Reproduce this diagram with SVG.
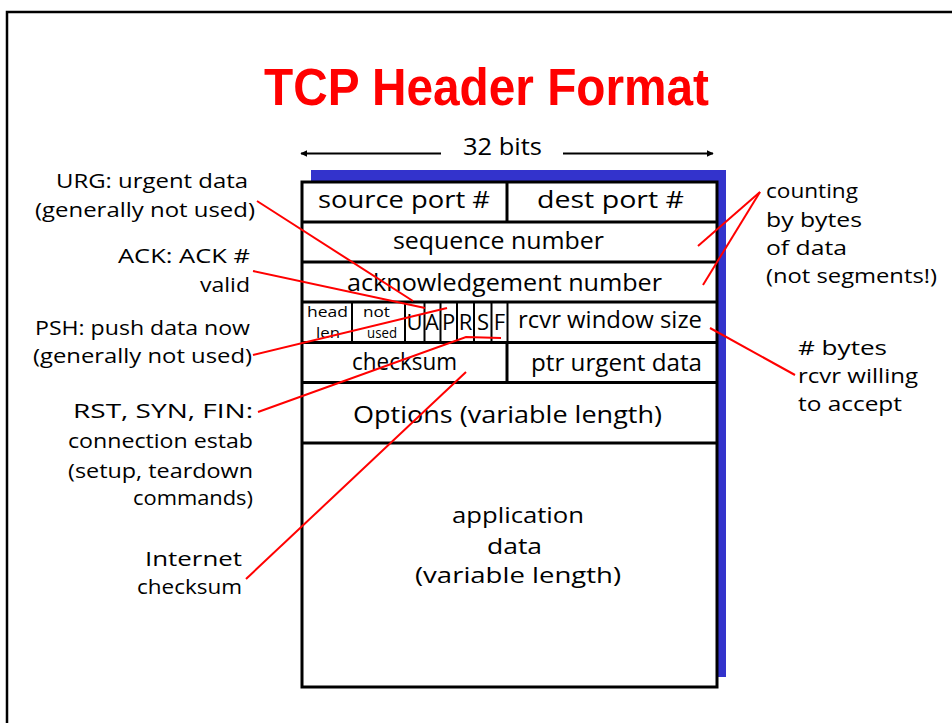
<svg xmlns="http://www.w3.org/2000/svg" width="952" height="723" viewBox="0 0 952 723">
  <defs>
    <marker id="arrowhead" viewBox="0 0 10 10" refX="9" refY="5" markerWidth="7" markerHeight="7" markerUnits="userSpaceOnUse" orient="auto-start-reverse">
      <path d="M0,0 L10,5 L0,10 z" fill="#000"/>
    </marker>
  </defs>
  <style>
    .t { font-family: "Open Sans", "DejaVu Sans", sans-serif; font-size: 24px; fill: #000; }
    .note { font-size: 20px; }
    .body { font-size: 21px; }
    .sm { font-size: 15px; }
    .flag { font-size: 22px; text-anchor: middle; }
    .title { font-family: "Liberation Sans", Arial, sans-serif; font-size: 51px; font-weight: bold; fill: #ff0000; }
    .cell { fill: none; stroke: #000; stroke-width: 3; }
    .thin { stroke: #000; stroke-width: 2; }
    .lead { fill: none; stroke: #ff0000; stroke-width: 2; }
    .dim { stroke: #000; stroke-width: 2; fill: none; }
  </style>

  <rect width="952" height="723" fill="#fff"/>
  <!-- slide frame -->
  <rect x="7" y="12" width="960" height="730" fill="none" stroke="#000" stroke-width="2.5"/>

  <g id="title">
    <text class="title" x="264" y="104.5" textLength="445" lengthAdjust="spacingAndGlyphs">TCP Header Format</text>
  </g>

  <g id="width-label">
    <line class="dim" x1="441" y1="153.5" x2="301" y2="153.5" marker-end="url(#arrowhead)"/>
    <line class="dim" x1="563" y1="153.5" x2="713" y2="153.5" marker-end="url(#arrowhead)"/>
    <text class="t" x="463" y="155" textLength="79" lengthAdjust="spacingAndGlyphs">32 bits</text>
  </g>

  <g id="header">
    <rect x="311" y="170" width="415" height="507" fill="#3333cc"/>
    <rect x="302" y="182" width="415" height="505" fill="#fff"/>
    <g id="row-ports">
      <text class="t" x="318" y="208" textLength="172" lengthAdjust="spacingAndGlyphs">source port #</text>
      <text class="t" x="537" y="208" textLength="147" lengthAdjust="spacingAndGlyphs">dest port #</text>
    </g>
    <g id="row-seq">
      <text class="t" x="393" y="249" textLength="211" lengthAdjust="spacingAndGlyphs">sequence number</text>
    </g>
    <g id="row-ack">
      <text class="t" x="347" y="291" textLength="315" lengthAdjust="spacingAndGlyphs">acknowledgement number</text>
    </g>
    <g id="row-flags">
      <text class="t sm" x="307" y="317" textLength="41" lengthAdjust="spacingAndGlyphs">head</text>
      <text class="t sm" x="316" y="338" textLength="24" lengthAdjust="spacingAndGlyphs">len</text>
      <text class="t sm" x="363" y="317" textLength="27" lengthAdjust="spacingAndGlyphs">not</text>
      <text class="t sm" x="367" y="338" textLength="30" lengthAdjust="spacingAndGlyphs">used</text>
      <text class="t flag" x="414.5" y="330">U</text>
      <text class="t flag" x="432" y="330">A</text>
      <text class="t flag" x="448.5" y="330">P</text>
      <text class="t flag" x="465.5" y="330">R</text>
      <text class="t flag" x="483" y="330">S</text>
      <text class="t flag" x="499.5" y="330">F</text>
      <text class="t" x="518" y="328" textLength="184" lengthAdjust="spacingAndGlyphs">rcvr window size</text>
    </g>
    <g id="row-checksum">
      <text class="t" x="352" y="370" textLength="105" lengthAdjust="spacingAndGlyphs">checksum</text>
      <text class="t" x="531" y="371" textLength="171" lengthAdjust="spacingAndGlyphs">ptr urgent data</text>
    </g>
    <g id="row-options">
      <text class="t" x="353" y="423" font-size="25" textLength="309" lengthAdjust="spacingAndGlyphs">Options (variable length)</text>
    </g>
    <g id="row-data">
      <text class="t body" x="452" y="522.5" textLength="132" lengthAdjust="spacingAndGlyphs">application</text>
      <text class="t body" x="487" y="554" textLength="55" lengthAdjust="spacingAndGlyphs">data</text>
      <text class="t body" x="415" y="583" textLength="206" lengthAdjust="spacingAndGlyphs">(variable length)</text>
    </g>
    <!-- grid lines -->
    <rect class="cell" x="302" y="182" width="415" height="505"/>
    <line class="cell" x1="302" y1="222" x2="717" y2="222"/>
    <line class="cell" x1="302" y1="262" x2="717" y2="262"/>
    <line class="cell" x1="302" y1="302" x2="717" y2="302"/>
    <line class="cell" x1="302" y1="342.5" x2="717" y2="342.5"/>
    <line class="cell" x1="302" y1="382.5" x2="717" y2="382.5"/>
    <line class="cell" x1="302" y1="443" x2="717" y2="443"/>
    <line class="cell" x1="507" y1="182" x2="507" y2="222"/>
    <line class="cell" x1="507" y1="342.5" x2="507" y2="382.5"/>
    <line class="thin" x1="352" y1="302" x2="352" y2="342.5"/>
    <line class="thin" x1="405" y1="302" x2="405" y2="342.5"/>
    <line class="thin" x1="424.5" y1="302" x2="424.5" y2="342.5"/>
    <line class="thin" x1="440.5" y1="302" x2="440.5" y2="342.5"/>
    <line class="thin" x1="457" y1="302" x2="457" y2="342.5"/>
    <line class="thin" x1="474" y1="302" x2="474" y2="342.5"/>
    <line class="thin" x1="491.5" y1="302" x2="491.5" y2="342.5"/>
    <line class="thin" x1="507.5" y1="302" x2="507.5" y2="342.5"/>
  </g>

  <g id="note-urg">
    <text class="t note" x="56" y="188" textLength="192" lengthAdjust="spacingAndGlyphs">URG: urgent data</text>
    <text class="t note" x="35" y="216.5" textLength="220" lengthAdjust="spacingAndGlyphs">(generally not used)</text>
  </g>
  <g id="note-ack">
    <text class="t note" x="118" y="263" textLength="132" lengthAdjust="spacingAndGlyphs">ACK: ACK #</text>
    <text class="t note" x="200" y="291.5" textLength="50" lengthAdjust="spacingAndGlyphs">valid</text>
  </g>
  <g id="note-psh">
    <text class="t note" x="35" y="335" textLength="215" lengthAdjust="spacingAndGlyphs">PSH: push data now</text>
    <text class="t note" x="33" y="363" textLength="219" lengthAdjust="spacingAndGlyphs">(generally not used)</text>
  </g>
  <g id="note-rst-syn-fin">
    <text class="t note" x="73" y="418" textLength="180" lengthAdjust="spacingAndGlyphs">RST, SYN, FIN:</text>
    <text class="t note" x="68" y="448" textLength="185" lengthAdjust="spacingAndGlyphs">connection estab</text>
    <text class="t note" x="68" y="477.5" textLength="185" lengthAdjust="spacingAndGlyphs">(setup, teardown</text>
    <text class="t note" x="133" y="505" textLength="120" lengthAdjust="spacingAndGlyphs">commands)</text>
  </g>
  <g id="note-checksum">
    <text class="t note" x="145" y="566" textLength="97" lengthAdjust="spacingAndGlyphs">Internet</text>
    <text class="t note" x="137" y="593.5" textLength="105" lengthAdjust="spacingAndGlyphs">checksum</text>
  </g>
  <g id="note-counting">
    <text class="t note" x="766" y="198" textLength="92" lengthAdjust="spacingAndGlyphs">counting</text>
    <text class="t note" x="766" y="226.5" textLength="96" lengthAdjust="spacingAndGlyphs">by bytes</text>
    <text class="t note" x="766" y="255" textLength="81" lengthAdjust="spacingAndGlyphs">of data</text>
    <text class="t note" x="766" y="283" textLength="171" lengthAdjust="spacingAndGlyphs">(not segments!)</text>
  </g>
  <g id="note-window">
    <text class="t note" x="798" y="355" textLength="89" lengthAdjust="spacingAndGlyphs"># bytes</text>
    <text class="t note" x="798" y="383" textLength="120" lengthAdjust="spacingAndGlyphs">rcvr willing</text>
    <text class="t note" x="798" y="410.5" textLength="104" lengthAdjust="spacingAndGlyphs">to accept</text>
  </g>

  <g id="connectors">
    <line class="lead" x1="257" y1="201" x2="413" y2="301"/>
    <line class="lead" x1="253" y1="271" x2="425" y2="308"/>
    <line class="lead" x1="253" y1="355" x2="447" y2="308"/>
    <polyline class="lead" points="258,412 466,337 501,338"/>
    <line class="lead" x1="246" y1="579" x2="466" y2="372"/>
    <line class="lead" x1="760" y1="192" x2="698" y2="246"/>
    <line class="lead" x1="760" y1="192" x2="703" y2="285"/>
    <line class="lead" x1="710" y1="328" x2="795" y2="375"/>
  </g>
</svg>
